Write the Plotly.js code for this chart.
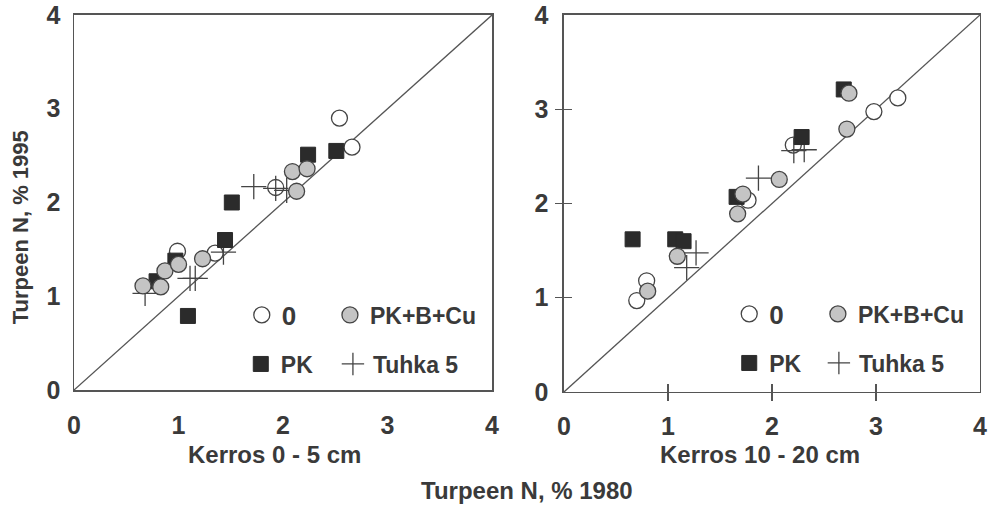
<!DOCTYPE html>
<html>
<head>
<meta charset="utf-8">
<script src="https://cdn.plot.ly/plotly-3.0.1.min.js"></script>
<style>html,body{margin:0;padding:0;background:#fff}#chart{width:995px;height:506px}</style>
</head>
<body>
<div id="chart"></div>
<script>
// ---------- data ----------
// Left panel: Kerros 0 - 5 cm
const left0X = [0.99, 1.35, 1.93, 2.54, 2.66];
const left0Y = [1.48, 1.46, 2.16, 2.90, 2.59];
const leftGX = [0.66, 0.83, 0.87, 1.00, 1.23, 2.13, 2.09, 2.23];
const leftGY = [1.11, 1.10, 1.27, 1.34, 1.40, 2.12, 2.33, 2.36];
const leftSX = [0.79, 0.97, 1.09, 1.445, 1.51, 2.24, 2.51];
const leftSY = [1.16, 1.38, 0.79, 1.60, 2.00, 2.51, 2.55];
const leftPX = [0.68, 1.11, 1.16, 1.43, 1.72, 1.93, 2.035];
const leftPY = [1.03, 1.19, 1.19, 1.47, 2.17, 2.15, 2.13];
// Right panel: Kerros 10 - 20 cm
const right0X = [0.70, 0.795, 1.77, 2.205, 2.98, 3.21];
const right0Y = [0.97, 1.18, 2.035, 2.62, 2.975, 3.12];
const rightGX = [0.805, 1.09, 1.67, 1.72, 2.07, 2.72, 2.74];
const rightGY = [1.07, 1.44, 1.89, 2.10, 2.255, 2.79, 3.17];
const rightSX = [0.66, 1.07, 1.15, 1.66, 2.285, 2.69];
const rightSY = [1.62, 1.62, 1.60, 2.07, 2.705, 3.21];
const rightPX = [1.18, 1.27, 1.87, 2.21, 2.31];
const rightPY = [1.32, 1.475, 2.27, 2.56, 2.57];
// 1:1 line
const lineX = [0, 4];
const lineY = [0, 4];
// labels
const seriesNames = ["0", "PK+B+Cu", "PK", "Tuhka 5"];
const tickVals = [0, 1, 2, 3, 4];
const innerTicks = [1, 2, 3];
const panelTitles = ["Kerros 0 - 5 cm", "Kerros 10 - 20 cm"];
const xTitle = "Turpeen N, % 1980";
const yTitle = "Turpeen N, % 1995";

// ---------- styles ----------
const INK = "#3a3a3a";
const LINE = "#555555";
const FONT = "Liberation Sans, Arial, sans-serif";
const markerStyles = {
  "0": {symbol: "circle", size: 16, color: "#ffffff", line: {color: "#444", width: 1.3}},
  "PK+B+Cu": {symbol: "circle", size: 16, color: "#c4c4c4", line: {color: "#444", width: 1.3}},
  "PK": {symbol: "square", size: 15, color: "#2b2b2b", line: {color: "#2b2b2b", width: 1}},
  "Tuhka 5": {symbol: "cross-thin-open", size: 18, color: "#444", line: {color: "#444", width: 1.3}}
};

function pts(xs, ys, name, xa, ya, legend) {
  const m = markerStyles[name];
  return {
    type: "scatter", mode: "markers", x: xs, y: ys, name: name,
    xaxis: xa, yaxis: ya, legend: legend,
    marker: {symbol: m.symbol, size: m.size, color: m.color, line: m.line},
    hoverinfo: "x+y+name"
  };
}
function diag(xa, ya) {
  return {type: "scatter", mode: "lines", x: lineX, y: lineY, xaxis: xa, yaxis: ya,
    line: {color: LINE, width: 1.3}, showlegend: false, hoverinfo: "skip"};
}
function dummy(xa, ya) {
  return {type: "scatter", mode: "markers", x: [null], y: [null], xaxis: xa, yaxis: ya,
    showlegend: false, hoverinfo: "skip"};
}

const data = [
  diag("x", "y"),
  pts(left0X, left0Y, seriesNames[0], "x", "y", "legend"),
  pts(leftPX, leftPY, seriesNames[3], "x", "y", "legend4"),
  pts(leftSX, leftSY, seriesNames[2], "x", "y", "legend3"),
  pts(leftGX, leftGY, seriesNames[1], "x", "y", "legend2"),
  diag("x2", "y2"),
  pts(right0X, right0Y, seriesNames[0], "x2", "y2", "legend5"),
  pts(rightPX, rightPY, seriesNames[3], "x2", "y2", "legend8"),
  pts(rightSX, rightSY, seriesNames[2], "x2", "y2", "legend7"),
  pts(rightGX, rightGY, seriesNames[1], "x2", "y2", "legend6"),
  dummy("x3", "y3"),
  dummy("x4", "y4")
];

const tickFont = {family: FONT, size: 25, color: INK, weight: "bold"};
function baseAxis(domain, anchor, standoff) {
  return {
    domain: domain, anchor: anchor, range: [0, 4], tickvals: tickVals, ticktext: tickVals.map(String),
    showline: true, mirror: true, linecolor: LINE, linewidth: 1.5,
    ticks: "", showgrid: false, zeroline: false, fixedrange: true,
    tickfont: tickFont, ticklabelstandoff: standoff
  };
}
function tickAxis(over, anchor, dir) {
  return {
    overlaying: over, anchor: anchor, range: [0, 4], tickvals: innerTicks,
    ticks: dir, ticklen: 8, tickwidth: 1.3, tickcolor: LINE,
    showticklabels: false, showline: false, showgrid: false, zeroline: false, fixedrange: true
  };
}

function leg(x, y, size) {
  return {x: x, y: y, xanchor: "left", yanchor: "middle", bgcolor: "rgba(0,0,0,0)",
    borderwidth: 0, font: {family: FONT, size: size, color: INK, weight: "bold"},
    itemsizing: "trace", itemclick: false, itemdoubleclick: false};
}
const titleFont = {family: FONT, size: 24, color: INK, weight: "bold"};

const layout = {
  width: 995, height: 506,
  margin: {l: 0, r: 0, t: 0, b: 0},
  paper_bgcolor: "#ffffff", plot_bgcolor: "rgba(0,0,0,0)",
  showlegend: true,
  xaxis: baseAxis([0.0744, 0.4945], "y", 12),
  yaxis: baseAxis([0.2292, 0.9704], "x", 7),
  xaxis2: baseAxis([0.5668, 0.9849], "y2", 12),
  yaxis2: baseAxis([0.2253, 0.9704], "x2", 9),
  xaxis3: tickAxis("x2", "y2", "inside"),
  yaxis3: tickAxis("y2", "x2", "inside"),
  xaxis4: tickAxis("x2", "y2", "outside"),
  yaxis4: tickAxis("y2", "x2", "outside"),
  legend: leg(0.243, 0.3775, 26),
  legend2: leg(0.3316, 0.3775, 23),
  legend3: leg(0.242, 0.2806, 23),
  legend4: leg(0.3346, 0.2806, 23),
  legend5: leg(0.7329, 0.3795, 26),
  legend6: leg(0.822, 0.3795, 23),
  legend7: leg(0.7329, 0.2826, 23),
  legend8: leg(0.823, 0.2826, 23),
  annotations: [
    {text: panelTitles[0], xref: "paper", yref: "paper", x: 0.2754, y: 0.1008, showarrow: false,
      xanchor: "center", yanchor: "middle", font: titleFont},
    {text: panelTitles[1], xref: "paper", yref: "paper", x: 0.7638, y: 0.1008, showarrow: false,
      xanchor: "center", yanchor: "middle", font: titleFont},
    {text: xTitle, xref: "paper", yref: "paper", x: 0.5296, y: 0.0316, showarrow: false,
      xanchor: "center", yanchor: "middle", font: titleFont},
    {text: yTitle, xref: "paper", yref: "paper", x: 0.0201, y: 0.551, showarrow: false, textangle: -90,
      xanchor: "center", yanchor: "middle", font: {family: FONT, size: 22, color: INK, weight: "bold"}}
  ]
};

Plotly.newPlot("chart", data, layout, {displayModeBar: false, staticPlot: true});
</script>
</body>
</html>
